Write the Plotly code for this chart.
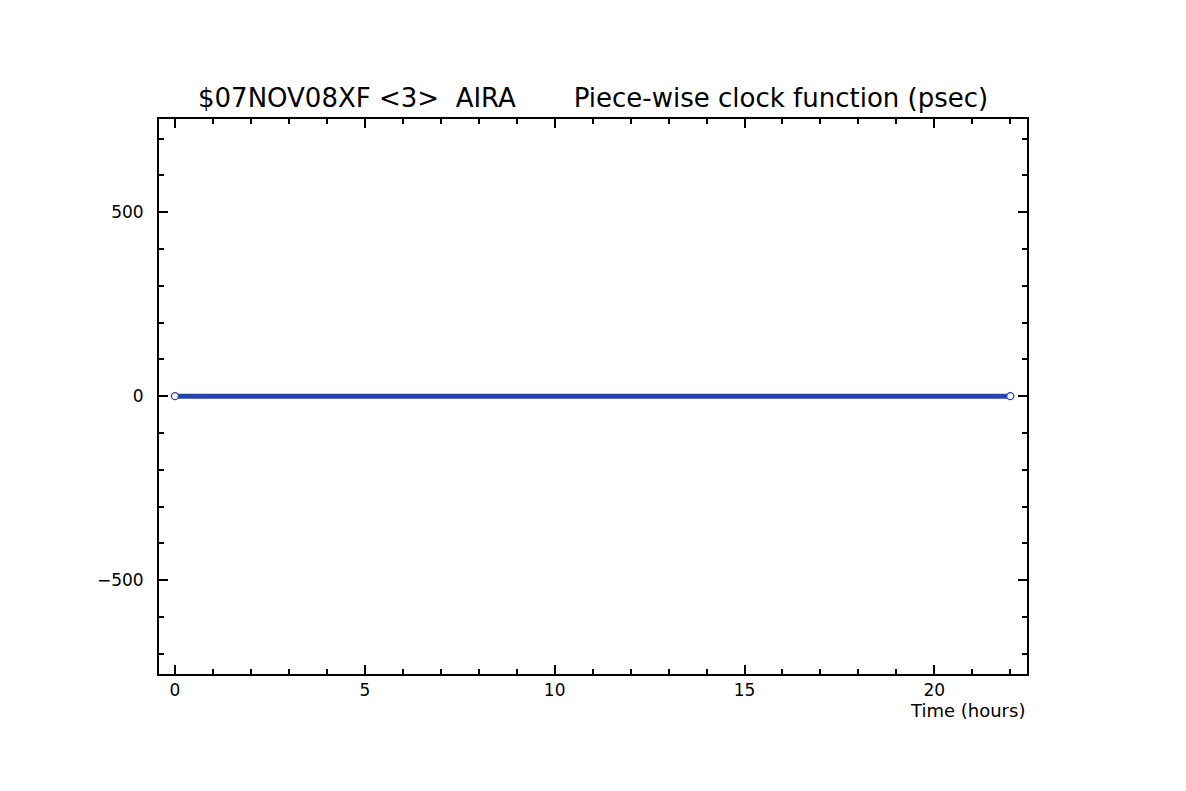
import plotly.graph_objects as go

time_hours = [0.0, 22.0]
clock_psec = [0.0, 0.0]

title_text = "$07NOV08XF &lt;3&gt;  AIRA       Piece-wise clock function (psec)"
xlabel = "Time (hours)"

blue = "rgb(40,68,170)"

fig = go.Figure()
fig.add_trace(go.Scatter(
    x=time_hours, y=clock_psec, mode="lines",
    line=dict(color=blue, width=5), showlegend=False))
fig.add_trace(go.Scatter(
    x=time_hours, y=clock_psec, mode="markers",
    marker=dict(symbol="circle", size=7, color="white",
                line=dict(color=blue, width=1.3)), showlegend=False))

axis_common = dict(
    showgrid=False, zeroline=False, showline=True, linecolor="black",
    linewidth=2, mirror="allticks", ticks="inside", tickcolor="black",
    tickwidth=1.5, ticklen=9,
    tickfont=dict(family="DejaVu Sans", size=17, color="black"),
)

fig.update_xaxes(range=[-0.42, 22.44], tickmode="linear", tick0=0, dtick=5,
                 minor=dict(dtick=1, ticks="inside", ticklen=5, tickcolor="black", tickwidth=1.5),
                 **axis_common)
fig.update_yaxes(range=[-755, 753], tickmode="linear", tick0=0, dtick=500,
                 ticklabelstandoff=10, exponentformat="none",
                 tickvals=[-500, 0, 500], ticktext=["-500", "0", "500"],
                 minor=dict(dtick=100, ticks="inside", ticklen=5, tickcolor="black", tickwidth=1.5),
                 **axis_common)

fig.add_annotation(text=title_text, xref="paper", yref="paper", x=0.5, y=1.0,
                   yshift=4, xanchor="center", yanchor="bottom", showarrow=False,
                   font=dict(family="DejaVu Sans", size=26, color="black"))
fig.add_annotation(text=xlabel, xref="paper", yref="paper", x=1.0, y=0,
                   yshift=-24, xanchor="right", yanchor="top", showarrow=False,
                   font=dict(family="DejaVu Sans", size=18, color="black"))

fig.update_layout(
    width=1186, height=791,
    margin=dict(l=151, r=167, t=111, b=125),
    paper_bgcolor="white", plot_bgcolor="white",
)

fig.write_html("out.html")
